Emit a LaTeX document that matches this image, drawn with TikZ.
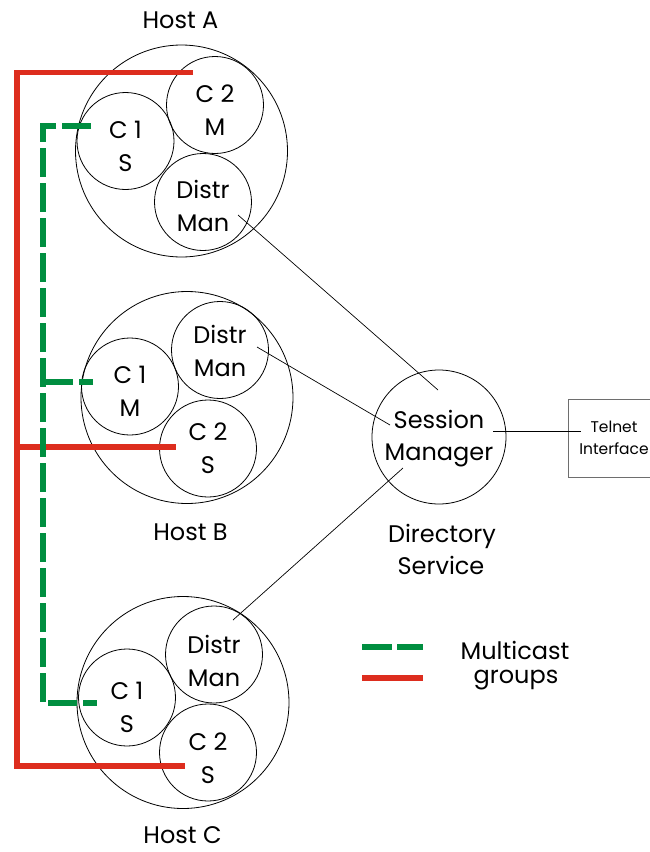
\documentclass[tikz,border=0pt]{standalone}
\usepackage{fontspec}
\setmainfont{Poppins}
\definecolor{busred}{RGB}{221,45,30}
\definecolor{busgreen}{RGB}{0,142,64}
\definecolor{boxgray}{RGB}{110,110,110}
% invisible strut on a first text line: sets how low the text sits in its circle
\newcommand{\lowby}[1]{\rule{0pt}{#1pt}}
\begin{document}
\begin{tikzpicture}[x=1pt,y=-1pt,
  host/.style={circle,draw,line width=0.8pt,minimum size=212pt,inner sep=0pt},
  part/.style={circle,draw,line width=0.8pt,minimum size=97pt,inner sep=0pt,
    align=center,font=\fontsize{24}{33}\selectfont},
  lbl/.style={anchor=base,inner sep=0pt,font=\fontsize{24}{33}\selectfont},
  link/.style={line width=0.7pt},
  redbus/.style={draw=busred,line width=5.5pt},
  greenbus/.style={draw=busgreen,line width=6.5pt,dash pattern=on 29pt off 6pt}
]
\useasboundingbox (0,0) rectangle (650,852);

% hosts
\node[host] (hostA) at (181.5,151) {};
\node[host] (hostB) at (187,397.5) {};
\node[host] (hostC) at (183,702.5) {};

% processes inside Host A
\node[part] (c1A) at (125.5,141) {\lowby{28}C 1\\S};
\node[part] (c2A) at (215,105) {\lowby{28}C 2\\M};
\node[part] (dmA) at (203,202) {\lowby{26}Distr\\Man};
% processes inside Host B
\node[part] (c1B) at (130,386.5) {\lowby{27}C 1\\M};
\node[part] (dmB) at (220,350) {\lowby{21}Distr\\Man};
\node[part] (c2B) at (208,448.5) {\lowby{17}C 2\\S};
% processes inside Host C
\node[part] (c1C) at (127,697.5) {\lowby{37}C 1\\S};
\node[part] (dmC) at (214,654.5) {\lowby{31}Distr\\Man};
\node[part] (c2C) at (208,752.5) {\lowby{29}C 2\\S};

% host captions
\node[lbl] (labA) at (180.5,28) {Host A};
\node[lbl] (labB) at (190.5,540) {Host B};
\node[lbl] (labC) at (182.5,843) {Host C};

% directory service
\node[circle,draw,line width=0.8pt,minimum size=134pt,inner sep=0pt,align=center,
  font=\fontsize{24}{32}\selectfont] (sm) at (439,437) {\lowby{21}Session\\Manager};
\node[lbl] (dir1) at (442,542) {Directory};
\node[lbl] (dir2) at (441,574) {Service};

% telnet interface (its right side runs past the page edge)
\node[draw=boxgray,line width=1pt,minimum width=91pt,minimum height=78pt,inner sep=0pt,
  align=center,font=\fontsize{15.5}{22}\selectfont] (tel) at (614,438) {Telnet\\Interface};

% control links
\draw[link] ([shift={(35,13)}]dmA.center) -- ([shift={(-1,-47)}]sm.center);
\draw[link] ([shift={(37,-3)}]dmB.center) -- ([shift={(-49,-12)}]sm.center);
\draw[link] ([shift={(19,-34.5)}]dmC.center) -- ([shift={(-36,31)}]sm.center);
\draw[link] ([shift={(54,-6)}]sm.center) -- ([shift={(-33,-7)}]tel.center);

% multicast group of the C 2 processes
\coordinate (rA) at ([shift={(-22,-32.5)}]c2A.center);
\coordinate (rB) at ([shift={(-32,-1.5)}]c2B.center);
\coordinate (rC) at ([shift={(-23,13.5)}]c2C.center);
\coordinate (redTop) at (17,72.5);
\coordinate (redBot) at (17,766);
\draw[redbus] (rA) -- (redTop) -- (redBot) -- (rC);
\draw[redbus] (redTop |- rB) -- (rB);

% multicast group of the C 1 processes
\coordinate (gA) at ([shift={(-34.5,-15)}]c1A.center);
\coordinate (gB) at ([shift={(-37,-4.5)}]c1B.center);
\coordinate (gC) at ([shift={(-30,5.5)}]c1C.center);
\coordinate (greenTop) at (43,126);
\coordinate (greenBot) at (43,703);
\draw[greenbus] (gA) -- (greenTop) -- (greenBot) -- (gC);
\draw[greenbus,dash phase=15pt] (gB) -- (greenTop |- gB);

% legend
\draw[greenbus,dash pattern=on 30pt off 5pt] (362,647) -- (423,647);
\draw[redbus] (362,678) -- (423,678);
\node[lbl] (leg1) at (515,659) {Multicast};
\node[lbl] (leg2) at (516,683) {groups};
\end{tikzpicture}
\end{document}
